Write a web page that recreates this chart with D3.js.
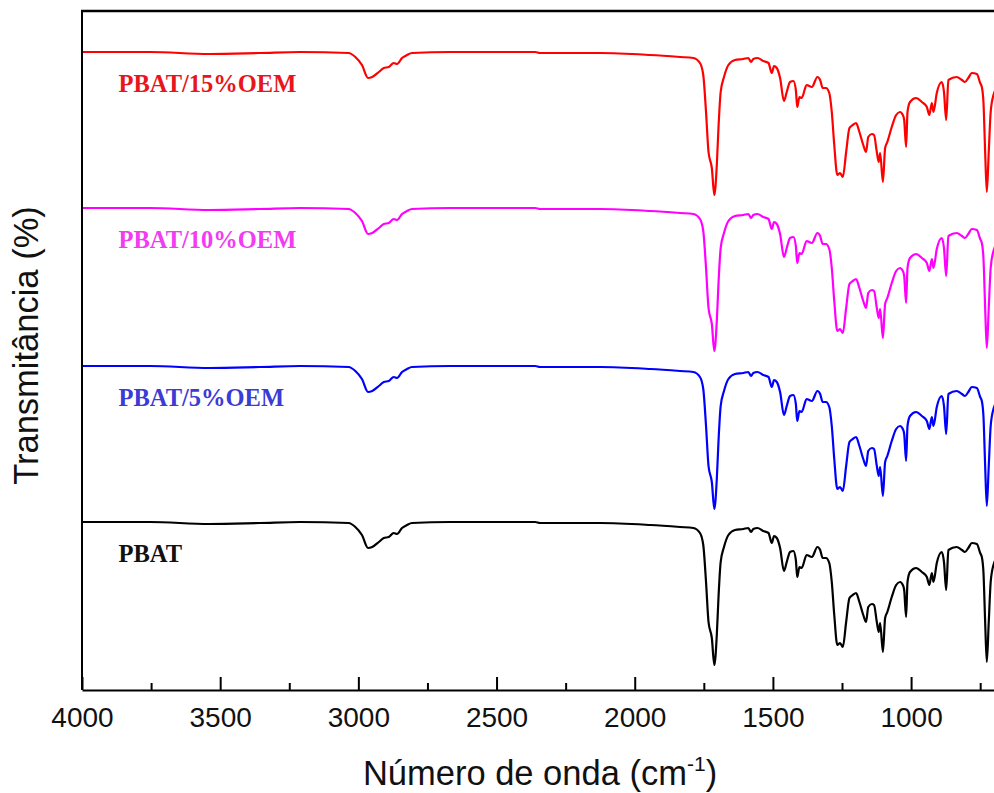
<!DOCTYPE html>
<html>
<head>
<meta charset="utf-8">
<script src="https://cdn.jsdelivr.net/npm/d3@7"></script>
<style>
  body { margin: 0; background: #fff; }
  svg { display: block; }
</style>
</head>
<body>
<svg id="chart"></svg>
<script>
// FTIR spectra of PBAT and PBAT/OEM films, stacked with an offset

// wavenumbers (cm-1), shared by the four spectra
var wavenumber = [
  4000, 3754, 3540, 3356, 3211, 3035, 3011, 2987, 2965, 2950,
  2926, 2908, 2890, 2872, 2860, 2842, 2824, 2806, 2668, 2360,
  2343, 2125, 1944, 1836, 1788, 1764, 1752, 1742, 1733, 1721,
  1712, 1703, 1697, 1689, 1677, 1661, 1637, 1607, 1589, 1579,
  1571, 1556, 1535, 1516, 1504, 1496, 1486, 1474, 1460, 1450,
  1438, 1426, 1417, 1412, 1404, 1396, 1378, 1359, 1339, 1329,
  1320, 1308, 1296, 1287, 1278, 1267, 1257, 1247, 1235, 1223,
  1211, 1199, 1187, 1173, 1163, 1155, 1142, 1134, 1124, 1117,
  1112, 1102, 1094, 1086, 1070, 1054, 1040, 1030, 1025, 1018,
  1013, 1004, 982, 961, 943, 934, 925, 919, 907, 889,
  881, 873, 865, 835, 816, 805, 793, 780, 762, 750,
  744, 738, 732, 726, 719, 712, 702, 695
];

// transmittance (a.u., offset stacked)
var pbat = [
  16.8, 16.8, 16.6, 16.7, 16.8, 16.7, 16.3, 15.5, 14.2, 14.3,
  14.8, 15.2, 15.3, 15.7, 15.6, 16.2, 16.5, 16.7, 16.8, 16.8,
  16.7, 16.7, 16.5, 16.3, 16.2, 15.7, 14.5, 10.8, 6.8, 5.2,
  2.5, 5.5, 9.2, 12.8, 14.3, 15.5, 16.0, 16.1, 16.2, 15.8,
  16.1, 16.2, 15.9, 15.7, 14.7, 15.4, 15.2, 14.2, 11.9, 12.8,
  13.8, 13.9, 13.0, 11.3, 12.3, 12.2, 13.5, 13.3, 14.3, 14.0,
  13.2, 13.2, 12.7, 10.8, 7.5, 4.5, 4.7, 4.3, 6.8, 9.2,
  9.5, 9.7, 8.8, 7.5, 6.8, 8.3, 8.6, 8.5, 6.8, 5.8,
  6.7, 3.8, 7.2, 7.8, 9.3, 10.5, 10.8, 10.5, 10.0, 7.3,
  10.8, 11.8, 12.2, 11.8, 11.3, 10.5, 11.7, 10.8, 12.7, 13.8,
  12.8, 10.0, 14.0, 14.3, 14.0, 13.8, 14.2, 14.7, 14.6, 13.7,
  13.3, 11.7, 6.8, 2.8, 6.8, 10.8, 12.5, 13.0
];

var pbat5 = [
  32.4, 32.4, 32.2, 32.3, 32.4, 32.3, 31.9, 31.1, 29.8, 29.9,
  30.4, 30.8, 30.9, 31.3, 31.2, 31.8, 32.1, 32.3, 32.4, 32.4,
  32.3, 32.3, 32.1, 31.9, 31.8, 31.3, 30.1, 26.4, 22.4, 20.8,
  18.1, 21.1, 24.8, 28.4, 29.9, 31.1, 31.6, 31.7, 31.8, 31.4,
  31.7, 31.8, 31.5, 31.3, 30.3, 31.0, 30.8, 29.8, 27.5, 28.4,
  29.4, 29.5, 28.6, 26.9, 27.9, 27.8, 29.1, 28.9, 29.9, 29.6,
  28.8, 28.8, 28.3, 26.4, 23.1, 20.1, 20.3, 19.9, 22.4, 24.8,
  25.1, 25.3, 24.4, 23.1, 22.4, 23.9, 24.2, 24.1, 22.4, 21.4,
  22.3, 19.4, 22.8, 23.4, 24.9, 26.1, 26.4, 26.1, 25.6, 22.9,
  26.4, 27.4, 27.8, 27.4, 26.9, 26.1, 27.3, 26.4, 28.3, 29.4,
  28.4, 25.6, 29.6, 29.9, 29.6, 29.4, 29.8, 30.3, 30.2, 29.3,
  28.9, 27.3, 22.4, 18.4, 22.4, 26.4, 28.1, 28.6
];

var pbat10 = [
  48.2, 48.2, 48.0, 48.1, 48.2, 48.1, 47.7, 46.9, 45.6, 45.7,
  46.2, 46.6, 46.7, 47.1, 47.0, 47.6, 47.9, 48.1, 48.2, 48.2,
  48.1, 48.1, 47.9, 47.7, 47.6, 47.1, 45.9, 42.2, 38.2, 36.6,
  33.9, 36.9, 40.6, 44.2, 45.7, 46.9, 47.4, 47.5, 47.6, 47.2,
  47.5, 47.6, 47.3, 47.1, 46.1, 46.8, 46.6, 45.6, 43.3, 44.2,
  45.2, 45.3, 44.4, 42.7, 43.7, 43.6, 44.9, 44.7, 45.7, 45.4,
  44.6, 44.6, 44.1, 42.2, 38.9, 35.9, 36.1, 35.7, 38.2, 40.6,
  40.9, 41.1, 40.2, 38.9, 38.2, 39.7, 40.0, 39.9, 38.2, 37.2,
  38.1, 35.2, 38.6, 39.2, 40.7, 41.9, 42.2, 41.9, 41.4, 38.7,
  42.2, 43.2, 43.6, 43.2, 42.7, 41.9, 43.1, 42.2, 44.1, 45.2,
  44.2, 41.4, 45.4, 45.7, 45.4, 45.2, 45.6, 46.1, 46.0, 45.1,
  44.7, 43.1, 38.2, 34.2, 38.2, 42.2, 43.9, 44.4
];

var pbat15 = [
  63.8, 63.8, 63.6, 63.7, 63.8, 63.7, 63.3, 62.5, 61.2, 61.3,
  61.8, 62.2, 62.3, 62.7, 62.6, 63.2, 63.5, 63.7, 63.8, 63.8,
  63.7, 63.7, 63.5, 63.3, 63.2, 62.7, 61.5, 57.8, 53.8, 52.2,
  49.5, 52.5, 56.2, 59.8, 61.3, 62.5, 63.0, 63.1, 63.2, 62.8,
  63.1, 63.2, 62.9, 62.7, 61.7, 62.4, 62.2, 61.2, 58.9, 59.8,
  60.8, 60.9, 60.0, 58.3, 59.3, 59.2, 60.5, 60.3, 61.3, 61.0,
  60.2, 60.2, 59.7, 57.8, 54.5, 51.5, 51.7, 51.3, 53.8, 56.2,
  56.5, 56.7, 55.8, 54.5, 53.8, 55.3, 55.6, 55.5, 53.8, 52.8,
  53.7, 50.8, 54.2, 54.8, 56.3, 57.5, 57.8, 57.5, 57.0, 54.3,
  57.8, 58.8, 59.2, 58.8, 58.3, 57.5, 58.7, 57.8, 59.7, 60.8,
  59.8, 57.0, 61.0, 61.3, 61.0, 60.8, 61.2, 61.7, 61.6, 60.7,
  60.3, 58.7, 53.8, 49.8, 53.8, 57.8, 59.5, 60.0
];

var seriesNames = ['PBAT', 'PBAT/5%OEM', 'PBAT/10%OEM', 'PBAT/15%OEM'];
var seriesValues = [pbat, pbat5, pbat10, pbat15];
var lineColors = ['#000000', '#0000ff', '#ff00ff', '#ff0000'];
var labelColors = ['#111111', '#3b3bd6', '#f23cf2', '#e8161c'];

var xTicks = [4000, 3500, 3000, 2500, 2000, 1500, 1000];
var xMinorTicks = [3750, 3250, 2750, 2250, 1750, 1250, 750];

var width = 994,
    height = 793,
    margin = {top: 11, right: 0, bottom: 103, left: 82};

var svg = d3.select('#chart')
  .attr('width', width)
  .attr('height', height);

var x = d3.scaleLinear()
  .domain([4000, 700])
  .range([margin.left, width - margin.right]);

var y = d3.scaleLinear()
  .domain([0, 67.9])
  .range([height - margin.bottom, margin.top]);

svg.append('clipPath')
  .attr('id', 'plot-clip')
  .append('rect')
    .attr('x', margin.left)
    .attr('y', margin.top)
    .attr('width', width - margin.left - margin.right)
    .attr('height', height - margin.top - margin.bottom);

// spectra
var line = d3.line()
  .x(function (d, i) { return x(wavenumber[i]); })
  .y(function (d) { return y(d); })
  .curve(d3.curveMonotoneX);

svg.append('g')
  .attr('clip-path', 'url(#plot-clip)')
  .selectAll('path')
  .data(seriesValues)
  .enter().append('path')
    .attr('fill', 'none')
    .attr('stroke', function (d, i) { return lineColors[i]; })
    .attr('stroke-width', 2.2)
    .attr('stroke-linejoin', 'round')
    .attr('d', line);

// series labels, just under each baseline
svg.append('g')
  .selectAll('text')
  .data(seriesNames)
  .enter().append('text')
    .attr('x', x(3868))
    .attr('y', function (d, i) { return y(seriesValues[i][0]) + 40; })
    .attr('fill', function (d, i) { return labelColors[i]; })
    .style('font-family', '"Liberation Serif", "Times New Roman", serif')
    .style('font-weight', 'bold')
    .style('font-size', '24.5px')
    .text(function (d) { return d; });

// frame: left and top
svg.append('line')
  .attr('x1', margin.left).attr('x2', margin.left)
  .attr('y1', margin.top).attr('y2', height - margin.bottom)
  .attr('stroke', '#000').attr('stroke-width', 2);
svg.append('line')
  .attr('x1', margin.left - 1).attr('x2', width)
  .attr('y1', margin.top).attr('y2', margin.top)
  .attr('stroke', '#000').attr('stroke-width', 2.5);

// bottom axis, ticks pointing inward
var xAxis = d3.axisBottom(x)
  .tickValues(xTicks)
  .tickSizeInner(-13)
  .tickSizeOuter(0)
  .tickPadding(17)
  .tickFormat(d3.format('d'));

var gx = svg.append('g')
  .attr('transform', 'translate(0,' + (height - margin.bottom) + ')')
  .call(xAxis);

gx.append('g')
  .call(d3.axisBottom(x)
    .tickValues(xMinorTicks)
    .tickSizeInner(-7)
    .tickSizeOuter(0)
    .tickFormat(''))
  .select('.domain').remove();

gx.selectAll('.domain, line')
  .attr('stroke', '#000')
  .attr('stroke-width', 2);
gx.selectAll('text')
  .attr('fill', '#111')
  .style('font-family', '"Liberation Sans", Arial, sans-serif')
  .style('font-size', '28px');

// axis titles
var xTitle = svg.append('text')
  .attr('x', 540)
  .attr('y', 785)
  .attr('text-anchor', 'middle')
  .attr('fill', '#111')
  .style('font-family', '"Liberation Sans", Arial, sans-serif')
  .style('font-size', '34.5px');
xTitle.append('tspan').text('Número de onda (cm');
xTitle.append('tspan')
  .attr('dy', -14)
  .style('font-size', '21px')
  .text('-1');
xTitle.append('tspan')
  .attr('dy', 14)
  .text(')');

svg.append('text')
  .attr('transform', 'translate(38,' + ((margin.top + height - margin.bottom) / 2 - 5) + ') rotate(-90)')
  .attr('text-anchor', 'middle')
  .attr('fill', '#111')
  .style('font-family', '"Liberation Sans", Arial, sans-serif')
  .style('font-size', '34.5px')
  .text('Transmitância (%)');
</script>
</body>
</html>
